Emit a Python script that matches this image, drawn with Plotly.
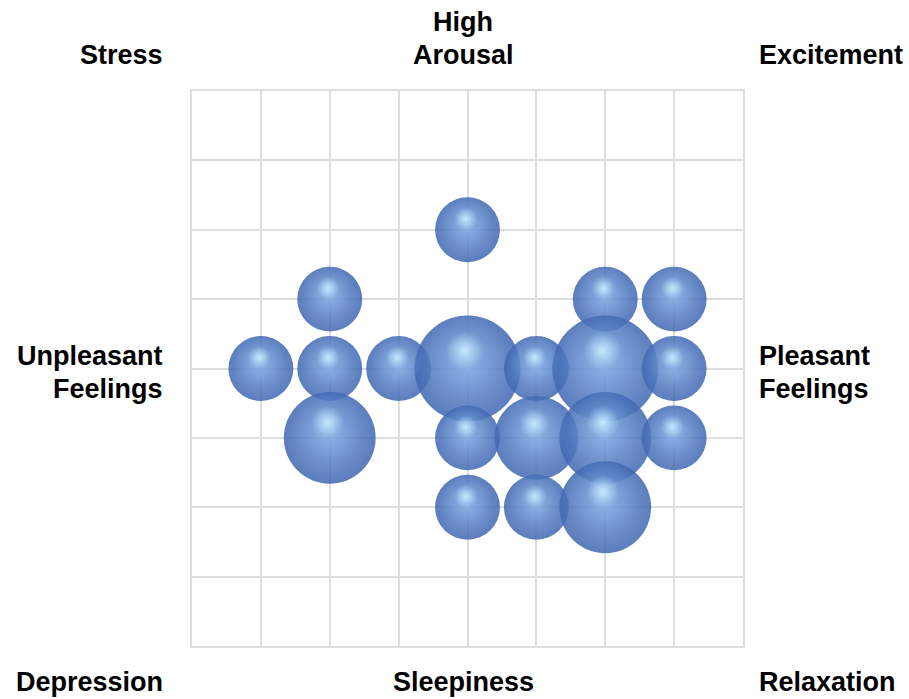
import numpy as np
import plotly.graph_objects as go

# Circumplex of affect: valence (x) vs arousal (y), bubble size = number of responses
valence = [0, -2, 2, 3, -3, -2, -1, 0, 1, 2, 3, -2, 0, 1, 2, 3, 0, 1, 2]
arousal = [2, 1, 1, 1, 0, 0, 0, 0, 0, 0, 0, -1, -1, -1, -1, -1, -2, -2, -2]
responses = [3, 3, 3, 3, 3, 3, 3, 8, 3, 8, 3, 6, 3, 5, 6, 3, 3, 3, 6]

# Quadrant / pole labels
corner_labels = ["Stress", "Excitement", "Depression", "Relaxation"]
pole_labels = ["High", "Arousal", "Unpleasant", "Feelings", "Pleasant", "Feelings", "Sleepiness"]

W, H = 909, 699
margin = dict(l=192, r=166, t=91, b=53)
plot_w = W - margin["l"] - margin["r"]
plot_h = H - margin["t"] - margin["b"]
x_range = [-4, 4]
y_range = [-4, 4]
px_per_x = plot_w / (x_range[1] - x_range[0])
px_per_y = plot_h / (y_range[1] - y_range[0])

max_diam = 106
sizeref = 2.0 * max(responses) / max_diam ** 2

vx = np.array(valence, dtype=float)
vy = np.array(arousal, dtype=float)
sz = np.array(responses, dtype=float)
diam = 2 * np.sqrt(sz / (2 * sizeref))  # rendered marker diameter in px
rad = diam / 2

fig = go.Figure()

# sphere body: darker rim shading into a mid blue core
fig.add_trace(go.Scatter(
    x=vx, y=vy, mode="markers", hoverinfo="skip",
    marker=dict(
        size=sz, sizemode="area", sizeref=sizeref, opacity=1,
        color="rgba(66,104,178,0.86)",
        gradient=dict(type="radial", color="rgba(112,152,214,0.86)"),
        line=dict(width=0),
    ),
))

# broad soft sheen on the upper half
fig.add_trace(go.Scatter(
    x=vx - 0.05 * rad / px_per_x, y=vy + 0.24 * rad / px_per_y,
    mode="markers", hoverinfo="skip",
    marker=dict(
        size=diam * 0.8, sizemode="diameter", opacity=1,
        color="rgba(130,175,232,0)",
        gradient=dict(type="radial", color="rgba(155,200,244,0.5)"),
        line=dict(width=0),
    ),
))

# small specular highlight
fig.add_trace(go.Scatter(
    x=vx - 0.05 * rad / px_per_x, y=vy + 0.34 * rad / px_per_y,
    mode="markers", hoverinfo="skip",
    marker=dict(
        size=diam * 0.36, sizemode="diameter", opacity=1,
        color="rgba(185,228,252,0)",
        gradient=dict(type="radial", color="rgba(205,240,255,0.9)"),
        line=dict(width=0),
    ),
))

font = dict(family="Liberation Sans, Arial, sans-serif", size=27, color="#000000")
left_x = -27 / plot_w
right_x = 1 + 14 / plot_w
mid_x = (463 - margin["l"]) / plot_w


def py(pixel_y):
    return (H - margin["b"] - pixel_y) / plot_h


annots = [
    (corner_labels[0], left_x, py(55), "right"),
    (corner_labels[1], right_x, py(55), "left"),
    (corner_labels[2], left_x, py(682), "right"),
    (corner_labels[3], right_x, py(682), "left"),
    (pole_labels[0], mid_x, py(22), "center"),
    (pole_labels[1], mid_x, py(55), "center"),
    (pole_labels[2], left_x, py(356), "right"),
    (pole_labels[3], left_x, py(389), "right"),
    (pole_labels[4], right_x, py(356), "left"),
    (pole_labels[5], right_x, py(389), "left"),
    (pole_labels[6], mid_x, py(682), "center"),
]
for text, ax, ay, anchor in annots:
    fig.add_annotation(
        text="<b>%s</b>" % text, x=ax, y=ay, xref="paper", yref="paper",
        xanchor=anchor, yanchor="middle", showarrow=False, font=font,
    )

axis_style = dict(
    showticklabels=False, ticks="", dtick=1, zeroline=False,
    showgrid=True, gridcolor="#dedede", gridwidth=1.5,
    showline=True, linecolor="#dedede", linewidth=1.5, mirror=True,
    fixedrange=True,
)
fig.update_xaxes(range=x_range, **axis_style)
fig.update_yaxes(range=y_range, **axis_style)

fig.update_layout(
    width=W, height=H, margin=margin, showlegend=False,
    paper_bgcolor="white", plot_bgcolor="white",
)

fig.write_html("out.html")
